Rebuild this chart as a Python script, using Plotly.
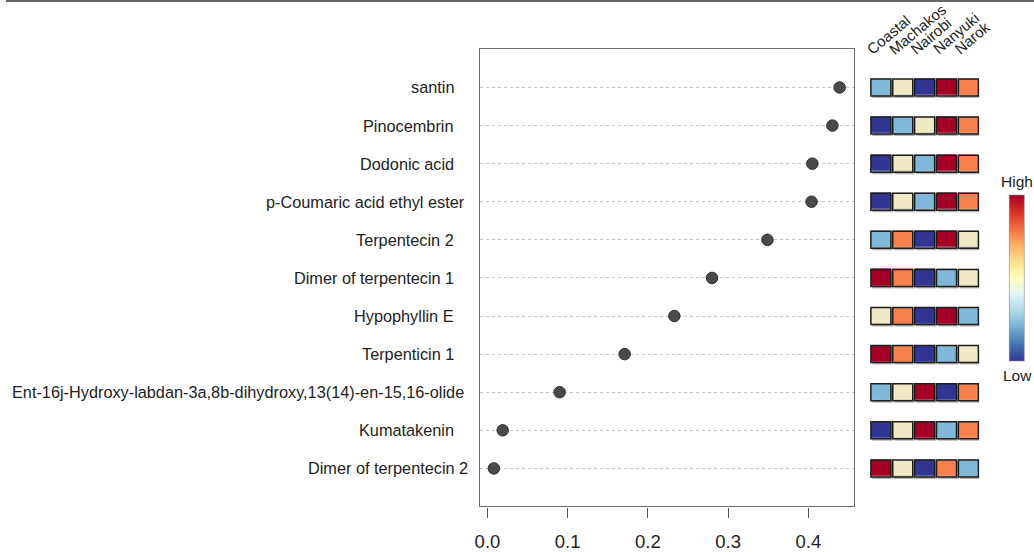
import plotly.graph_objects as go

# Compounds, bottom row first
compounds = [
    "Dimer of terpentecin 2",
    "Kumatakenin",
    "Ent-16j-Hydroxy-labdan-3a,8b-dihydroxy,13(14)-en-15,16-olide",
    "Terpenticin 1",
    "Hypophyllin E",
    "Dimer of terpentecin 1",
    "Terpentecin 2",
    "p-Coumaric acid ethyl ester",
    "Dodonic acid",
    "Pinocembrin",
    "santin",
]
importance = [0.008, 0.019, 0.090, 0.171, 0.233, 0.280, 0.349, 0.404, 0.405, 0.430, 0.439]

regions = ["Coastal", "Machakos", "Nairobi", "Nanyuki", "Narok"]

# Relative abundance level per region (1 = lowest ... 5 = highest), same row order
levels = [
    [5, 3, 1, 4, 2],
    [1, 3, 5, 2, 4],
    [2, 3, 5, 1, 4],
    [5, 4, 1, 2, 3],
    [3, 4, 1, 5, 2],
    [5, 4, 1, 2, 3],
    [2, 4, 1, 5, 3],
    [1, 3, 2, 5, 4],
    [1, 3, 2, 5, 4],
    [1, 2, 3, 5, 4],
    [2, 3, 1, 5, 4],
]
level_colors = ["#313695", "#7fb8d8", "#efe9c5", "#f7814c", "#a50026"]

x_ticks = [0.0, 0.1, 0.2, 0.3, 0.4]

W, H = 1034, 552
FONT = "Liberation Sans, Arial, sans-serif"
TEXT = "#222222"
DY = 3  # vertical nudge in pixels


def py(pix):
    """Paper fraction for a pixel row measured from the top."""
    return (H - pix - DY) / H


rows = list(range(1, len(compounds) + 1))

# stepwise colour scale for the five levels
disc_scale = []
for k, c in enumerate(level_colors):
    disc_scale.append([k / 5, c])
    disc_scale.append([(k + 1) / 5, c])

fig = go.Figure()

# dot chart
fig.add_trace(go.Scatter(
    x=importance, y=rows, mode="markers",
    marker=dict(size=11.5, color="#4a4a4a", line=dict(color="#2c2c2c", width=1)),
    hovertext=compounds, showlegend=False,
))

# region level tiles
fig.add_trace(go.Heatmap(
    z=levels, x=list(range(len(regions))), y=rows,
    xaxis="x2", yaxis="y2",
    colorscale=disc_scale, zmin=0.5, zmax=5.5,
    xgap=2, ygap=21.6, showscale=False,
))

# continuous Low/High colour key
fig.add_trace(go.Scatter(
    x=[None], y=[None], mode="markers", showlegend=False,
    marker=dict(
        color=[0], cmin=0, cmax=1, colorscale="RdYlBu_r", showscale=True,
        colorbar=dict(
            x=1017 / W, xanchor="center", y=py(278.5), yanchor="middle",
            len=166, lenmode="pixels", thickness=15, thicknessmode="pixels",
            showticklabels=False, ticks="", outlinewidth=0.6, outlinecolor="#8a8a8a",
            xpad=0, ypad=0,
        ),
    ),
))

shapes = []
for i, row in enumerate(levels):
    for j, _ in enumerate(row):
        shapes.append(dict(
            type="rect", xref="x2", yref="y2", layer="below",
            xsizemode="pixel", ysizemode="pixel", xanchor=j, yanchor=rows[i],
            x0=-8.5, x1=12, y0=-10.5, y1=7,
            fillcolor="rgba(120,120,120,0.55)", line=dict(width=0),
        ))
        shapes.append(dict(
            type="rect", xref="x2", yref="y2", layer="above",
            xsizemode="pixel", ysizemode="pixel", xanchor=j, yanchor=rows[i],
            x0=-10, x1=10, y0=-8.5, y1=8.5,
            fillcolor="rgba(0,0,0,0)", line=dict(color="#1e1e1e", width=1.5),
        ))
shapes.append(dict(type="line", xref="paper", yref="paper", x0=0, x1=1,
                   y0=1 - 1 / H, y1=1 - 1 / H, line=dict(color="#333333", width=1.5)))

annotations = []
# compound names, right aligned beside the dot chart
label_nudge = {
    "p-Coumaric acid ethyl ester": 11,
    "Ent-16j-Hydroxy-labdan-3a,8b-dihydroxy,13(14)-en-15,16-olide": 9.5,
    "Dimer of terpentecin 2": 13.5,
}
for name, r in zip(compounds, rows):
    annotations.append(dict(
        text=name, xref="paper", yref="y", x=453 / W, y=r,
        xanchor="right", yanchor="middle", showarrow=False,
        xshift=label_nudge.get(name, 0),
        font=dict(family=FONT, size=16.3, color=TEXT),
    ))
# region names, slanted above the tiles
for j, reg in enumerate(regions):
    annotations.append(dict(
        text=reg, xref="x2", yref="paper", x=j - 0.5, y=py(58),
        xanchor="left", yanchor="bottom", showarrow=False, textangle=-40,
        xshift=-9, font=dict(family=FONT, size=15, color=TEXT),
    ))
annotations.append(dict(text="High", xref="paper", yref="paper", x=1017 / W,
                        y=py(180.5), xanchor="center", yanchor="middle",
                        showarrow=False, font=dict(family=FONT, size=15.5, color=TEXT)))
annotations.append(dict(text="Low", xref="paper", yref="paper", x=1017 / W,
                        y=py(377), xanchor="center", yanchor="middle",
                        showarrow=False, font=dict(family=FONT, size=15.5, color=TEXT)))

y_dom = [py(510), py(47)]

fig.update_layout(
    width=W, height=H, margin=dict(l=0, r=0, t=0, b=0),
    paper_bgcolor="white", plot_bgcolor="white",
    font=dict(family=FONT, color=TEXT),
    xaxis=dict(
        domain=[477 / W, 853 / W], range=[-0.009, 0.457],
        tickvals=x_ticks, ticktext=[f"{v:.1f}" for v in x_ticks],
        ticks="outside", ticklen=10, tickwidth=1.3, tickcolor="#555555",
        ticklabelstandoff=8,
        tickfont=dict(family=FONT, size=18.5, color=TEXT),
        showline=True, mirror=True, linecolor="#707070", linewidth=1.3,
        showgrid=False, zeroline=False, anchor="y",
    ),
    yaxis=dict(
        domain=y_dom, range=[0, 12], tickvals=rows, showticklabels=False, ticks="",
        showline=True, mirror=True, linecolor="#707070", linewidth=1.3,
        showgrid=True, gridcolor="#c4c4c4", griddash="dot", gridwidth=1,
        zeroline=False, anchor="x",
    ),
    xaxis2=dict(domain=[869 / W, 979 / W], range=[-0.5, 4.5], visible=False,
                anchor="y2"),
    yaxis2=dict(domain=y_dom, matches="y", visible=False, anchor="x2"),
    shapes=shapes,
    annotations=annotations,
)

fig.write_html("out.html")
